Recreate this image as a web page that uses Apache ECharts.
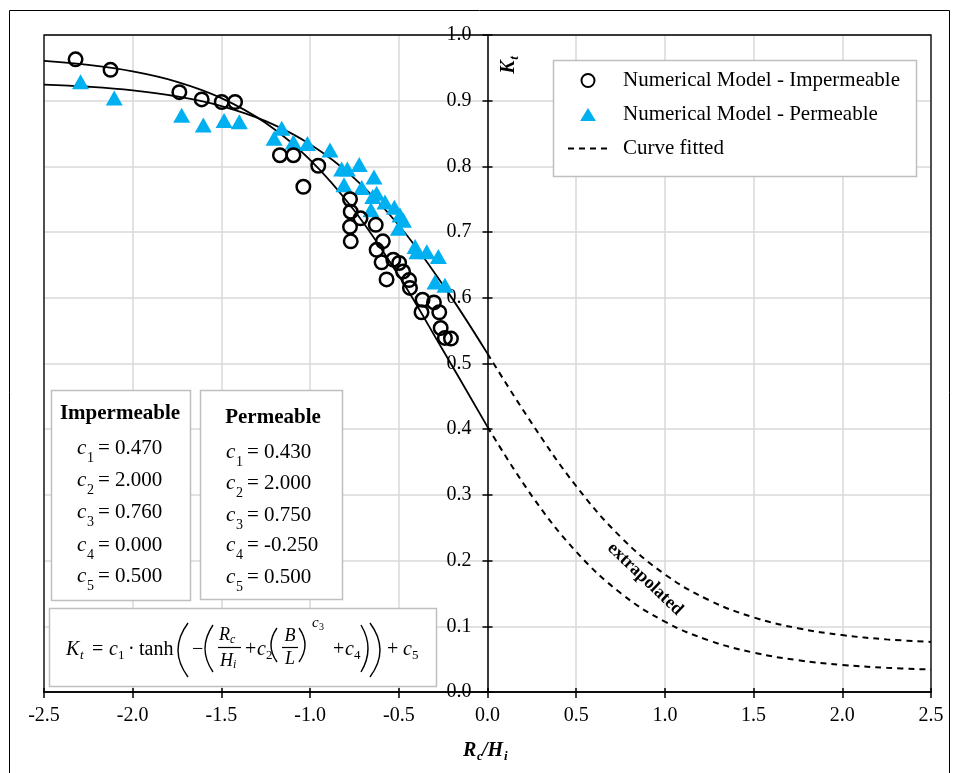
<!DOCTYPE html>
<html><head><meta charset="utf-8">
<script src="https://cdn.jsdelivr.net/npm/echarts@6/dist/echarts.min.js"></script>
<style>html,body{margin:0;padding:0;background:#fff}#c{width:958px;height:773px}</style>
</head><body><div id="c"></div>
<script>
// ---------- data ----------
const xTicks = [-2.5,-2.0,-1.5,-1.0,-0.5,0.0,0.5,1.0,1.5,2.0,2.5];
const xTickLabels = ['-2.5','-2.0','-1.5','-1.0','-0.5','0.0','0.5','1.0','1.5','2.0','2.5'];
const yTickLabels = ['0.0','0.1','0.2','0.3','0.4','0.5','0.6','0.7','0.8','0.9','1.0'];

const impX = [-2.322,-2.125,-1.737,-1.611,-1.498,-1.423,-1.170,-1.094,-1.038,-0.954,-0.775,-0.771,-0.716,-0.775,-0.771,-0.630,-0.590,-0.625,-0.597,-0.569,-0.531,-0.498,-0.476,-0.442,-0.437,-0.366,-0.372,-0.302,-0.272,-0.264,-0.240,-0.206];
const impY = [0.963,0.947,0.913,0.902,0.898,0.898,0.817,0.817,0.769,0.801,0.750,0.731,0.721,0.708,0.686,0.711,0.686,0.673,0.654,0.628,0.658,0.653,0.640,0.627,0.615,0.597,0.578,0.593,0.578,0.554,0.539,0.538];

const permX = [-2.294,-2.104,-1.724,-1.602,-1.485,-1.399,-1.203,-1.160,-1.094,-1.015,-0.888,-0.822,-0.790,-0.723,-0.809,-0.709,-0.640,-0.647,-0.625,-0.578,-0.657,-0.525,-0.493,-0.474,-0.502,-0.408,-0.398,-0.342,-0.277,-0.296,-0.240];
const permY = [0.929,0.904,0.878,0.863,0.870,0.868,0.843,0.858,0.837,0.835,0.825,0.796,0.796,0.803,0.772,0.768,0.784,0.754,0.759,0.746,0.734,0.738,0.726,0.718,0.706,0.678,0.670,0.670,0.663,0.624,0.619];

const curveX    = [-2.5,-2.25,-2.0,-1.75,-1.5,-1.25,-1.0,-0.75,-0.5,-0.25,0.0,0.25,0.5,0.75,1.0,1.25,1.5,1.75,2.0,2.25,2.5];
const curveImp  = [0.9605,0.9544,0.9446,0.9288,0.9040,0.8660,0.8100,0.7324,0.6334,0.5197,0.4036,0.2986,0.2136,0.1506,0.1070,0.0783,0.0599,0.0484,0.0412,0.0368,0.0342];
const curvePerm = [0.9246,0.9212,0.9156,0.9064,0.8919,0.8689,0.8336,0.7819,0.7104,0.6193,0.5150,0.4089,0.3133,0.2361,0.1790,0.1396,0.1136,0.0970,0.0866,0.0801,0.0762];

const impCoefs  = ['0.470','2.000','0.760','0.000','0.500'];
const permCoefs = ['0.430','2.000','0.750','-0.250','0.500'];

// ---------- helpers ----------
const SERIF = '"Liberation Serif","Times New Roman",serif';
const zip = (xs, ys) => xs.map((x, i) => [x, ys[i]]);
const splitAt0 = (xs, ys, neg) => xs.map((x, i) => [x, ys[i]]).filter(p => neg ? p[0] <= 0 : p[0] >= 0);

function T(x, y, text, size, o) {
  o = o || {};
  return { type: 'text', x: x, y: y, z: o.z || 11, rotation: o.rot || 0,
    style: { text: text, font: (o.it ? 'italic ' : '') + (o.b ? 'bold ' : '') + size + 'px ' + SERIF,
      fill: '#000', align: o.al || 'left', verticalAlign: 'middle' } };
}
function P(xEnd, xMid, yTop, yBot) {
  return { type: 'bezierCurve', z: 11,
    shape: { x1: xEnd, y1: yTop, x2: xEnd, y2: yBot, cpx1: 2 * xMid - xEnd, cpy1: (yTop + yBot) / 2 },
    style: { stroke: '#000', lineWidth: 1.4, fill: null } };
}
function L(x1, y1, x2, y2) {
  return { type: 'line', z: 11, shape: { x1, y1, x2, y2 }, style: { stroke: '#000', lineWidth: 1.2 } };
}
function box(x, y, w, h) {
  return { type: 'rect', z: 10, shape: { x: x + 0.5, y: y + 0.5, width: w, height: h },
    style: { fill: '#fff', stroke: '#bfbfbf', lineWidth: 1.5 } };
}
function coefLines(xc, ys, vals) {
  const out = [];
  vals.forEach((v, i) => {
    out.push(T(xc, ys[i], 'c', 21, { it: true }));
    out.push(T(xc + 10, ys[i] + 10, String(i + 1), 14));
    out.push(T(xc + 21, ys[i], '= ' + v, 21));
  });
  return out;
}

// ---------- layout ----------
const GL = 44, GR = 27, GT = 35, GB = 81, W = 958, H = 773;
const plotW = W - GL - GR;
const zeroOffset = -plotW * (0 - xTicks[0]) / (xTicks[xTicks.length - 1] - xTicks[0]);

// ---------- graphics (annotations) ----------
const g = [];
g.push({ type: 'rect', z: 0, shape: { x: 9.5, y: 10.5, width: 940, height: 790 }, style: { fill: null, stroke: '#000', lineWidth: 1 } });
g.push({ type: 'rect', z: 1, shape: { x: GL, y: GT, width: plotW, height: H - GT - GB }, style: { fill: null, stroke: '#000', lineWidth: 1.3 } });
g.push({ type: 'rect', z: 3, shape: { x: 553.5, y: 60.5, width: 363, height: 116 }, style: { fill: '#fff', stroke: '#bfbfbf', lineWidth: 1.5 } });
g.push(box(51, 390, 139, 210));
g.push(T(120, 414, 'Impermeable', 21, { b: true, al: 'center' }));
coefLines(77, [448, 480, 512, 545, 576], impCoefs).forEach(e => g.push(e));
g.push(box(200, 390, 142, 209));
g.push(T(273, 418, 'Permeable', 21, { b: true, al: 'center' }));
coefLines(226, [452, 483, 515, 545, 577], permCoefs).forEach(e => g.push(e));
g.push(box(49, 608, 387, 78));
const fy = 650;
[
  T(66, fy, 'K', 20, { it: true }), T(80, fy + 6, 't', 13, { it: true }),
  T(92, fy, '=', 20),
  T(109, fy, 'c', 20, { it: true }), T(118, fy + 6, '1', 13),
  T(128, fy, '·', 20),
  T(139, fy, 'tanh', 20),
  P(188, 178, 623, 677),
  T(192, fy, '\u2212', 20),
  P(213, 205, 625, 672),
  T(219, 635, 'R', 18, { it: true }), T(230, 640, 'c', 12, { it: true }),
  L(218, 647.5, 241, 647.5),
  T(220, 661, 'H', 18, { it: true }), T(233, 665, 'i', 12, { it: true }),
  T(245, fy, '+', 20),
  T(257, fy, 'c', 20, { it: true }), T(266, fy + 6, '2', 13),
  P(277, 271, 628, 662),
  T(290, 636, 'B', 18, { it: true, al: 'center' }),
  L(282, 647.5, 298, 647.5),
  T(290, 659, 'L', 18, { it: true, al: 'center' }),
  P(299, 305, 628, 662),
  T(312, 623, 'c', 15, { it: true }), T(319, 627, '3', 10),
  T(333, fy, '+', 20),
  T(345, fy, 'c', 20, { it: true }), T(354, fy + 6, '4', 13),
  P(361, 368, 625, 672),
  P(370, 380, 623, 677),
  T(387, fy, '+', 20),
  T(403, fy, 'c', 20, { it: true }), T(412, fy + 6, '5', 13)
].forEach(e => g.push(e));
g.push(T(645, 579, 'extrapolated', 18, { b: true, al: 'center', rot: -0.76 }));
g.push(T(509, 67, 'K', 20, { b: true, it: true, al: 'center', rot: Math.PI / 2 }));
g.push(T(515, 58, 't', 13, { b: true, it: true, al: 'center', rot: Math.PI / 2 }));
g.push(T(463, 751, 'R', 20, { b: true, it: true }));
g.push(T(477, 757, 'c', 13, { b: true, it: true }));
g.push(T(482, 751, '/H', 20, { b: true, it: true }));
g.push(T(504, 757, 'i', 13, { b: true, it: true }));

// ---------- chart ----------
const chart = echarts.init(document.getElementById('c'), null, { renderer: 'canvas' });
const axisLbl = { fontFamily: SERIF, fontSize: 20, color: '#000' };
const tickStyle = { color: '#000', width: 1.5 };
chart.setOption({
  animation: false,
  backgroundColor: '#fff',
  grid: { left: GL, right: GR, top: GT, bottom: GB, containLabel: false, outerBoundsMode: 'none', show: false },
  xAxis: [{
    type: 'value', min: -2.5, max: 2.5, interval: 0.5, position: 'bottom',
    axisLine: { onZero: false, lineStyle: { color: '#000', width: 1.5 } },
    axisTick: { show: true, length: 6, lineStyle: tickStyle },
    axisLabel: Object.assign({ margin: 14, formatter: v => xTickLabels[Math.round((v - xTicks[0]) / 0.5)] }, axisLbl),
    splitLine: { show: true, lineStyle: { color: '#d9d9d9', width: 1.5 } }
  }, {
    type: 'value', min: -2.5, max: 2.5, interval: 0.5, position: 'bottom',
    axisLine: { onZero: false, show: false },
    axisTick: { show: true, inside: true, length: 4, lineStyle: tickStyle },
    axisLabel: { show: false }, splitLine: { show: false }
  }],
  yAxis: [{
    type: 'value', min: 0, max: 1, interval: 0.1, position: 'left', offset: zeroOffset,
    axisLine: { onZero: false, lineStyle: { color: '#000', width: 1.5 } },
    axisTick: { show: true, length: 5, lineStyle: tickStyle },
    axisLabel: Object.assign({ margin: 16, formatter: v => yTickLabels[Math.round(v * 10)] }, axisLbl),
    splitLine: { show: true, lineStyle: { color: '#d9d9d9', width: 1.5 } }
  }, {
    type: 'value', min: 0, max: 1, interval: 0.1, position: 'left', offset: zeroOffset,
    axisLine: { onZero: false, show: false },
    axisTick: { show: true, inside: true, length: 5, lineStyle: tickStyle },
    axisLabel: { show: false }, splitLine: { show: false }
  }],
  legend: {
    z: 4, left: 567, top: 70, orient: 'vertical', padding: 0, itemGap: 13,
    itemWidth: 40, itemHeight: 13, symbolKeepAspect: true,
    textStyle: { fontFamily: SERIF, fontSize: 21, color: '#000', lineHeight: 21, padding: [0, 0, 0, 10] },
    data: [
      { name: 'Numerical Model - Impermeable' },
      { name: 'Numerical Model - Permeable', icon: 'path://M0,14L8.5,0L17,14Z' },
      { name: 'Curve fitted' }
    ]
  },
  graphic: { elements: g },
  series: [
    { name: 'Curve fitted solid imp', type: 'line', data: splitAt0(curveX, curveImp, true), smooth: 0.4, symbol: 'none',
      lineStyle: { color: '#000', width: 1.8 }, z: 2 },
    { name: 'Curve fitted solid perm', type: 'line', data: splitAt0(curveX, curvePerm, true), smooth: 0.4, symbol: 'none',
      lineStyle: { color: '#000', width: 1.8 }, z: 2 },
    { name: 'Curve fitted', type: 'line', data: splitAt0(curveX, curveImp, false), smooth: 0.4, symbol: 'none',
      lineStyle: { color: '#000', width: 2, type: [6, 5] }, itemStyle: { color: 'rgba(0,0,0,0)' }, z: 2 },
    { name: 'Curve fitted', type: 'line', data: splitAt0(curveX, curvePerm, false), smooth: 0.4, symbol: 'none',
      lineStyle: { color: '#000', width: 2, type: [6, 5] }, itemStyle: { color: 'rgba(0,0,0,0)' }, z: 2 },
    { name: 'Numerical Model - Permeable', type: 'scatter', data: zip(permX, permY), symbol: 'triangle', symbolSize: [17, 15],
      itemStyle: { color: '#00B0F0', opacity: 1 }, z: 3 },
    { name: 'Numerical Model - Impermeable', type: 'scatter', data: zip(impX, impY), symbol: 'circle', symbolSize: 13.5,
      itemStyle: { color: 'rgba(0,0,0,0)', borderColor: '#000', borderWidth: 2.5, opacity: 1 }, z: 3 }
  ]
});
</script></body></html>
